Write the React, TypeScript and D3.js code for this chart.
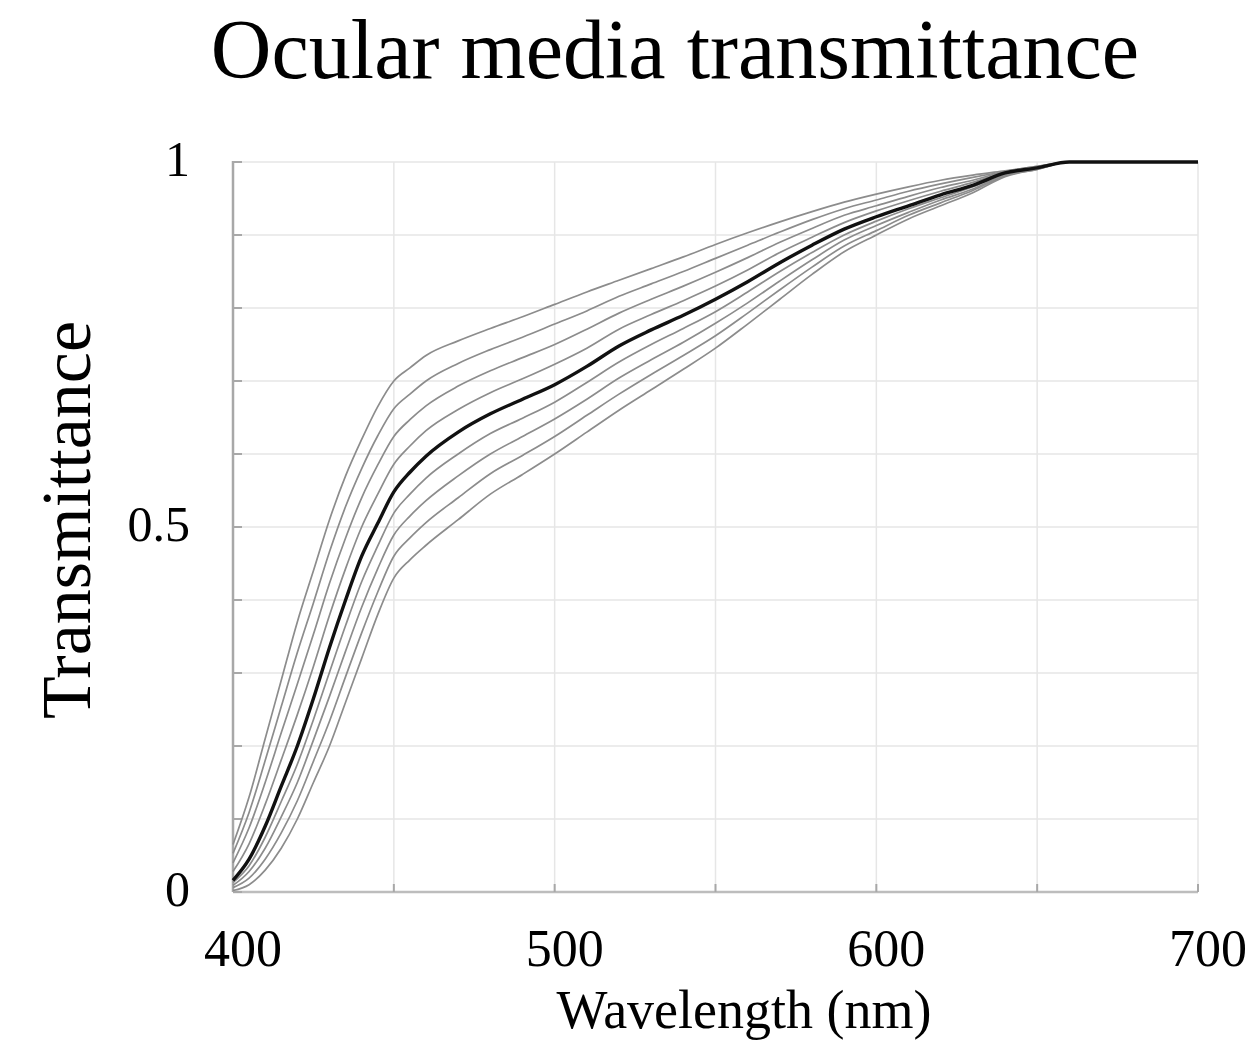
import React from "react";
import * as d3 from "d3";

const wavelengths = [400, 405, 410, 415, 420, 425, 430, 435, 440, 445, 450, 455, 460, 470, 480, 490, 500, 510, 520, 530, 540, 550, 560, 570, 580, 590, 600, 610, 620, 630, 640, 650, 660, 680, 700];

const curve0 = [0.065, 0.13, 0.21, 0.29, 0.37, 0.44, 0.51, 0.57, 0.62, 0.665, 0.70, 0.718, 0.735, 0.755, 0.772, 0.788, 0.805, 0.822, 0.838, 0.854, 0.87, 0.887, 0.903, 0.918, 0.932, 0.945, 0.956, 0.966, 0.975, 0.982, 0.988, 0.994, 1, 1, 1];
const curve1 = [0.053, 0.109, 0.18, 0.254, 0.328, 0.396, 0.466, 0.528, 0.58, 0.625, 0.662, 0.682, 0.70, 0.724, 0.743, 0.76, 0.778, 0.796, 0.816, 0.833, 0.85, 0.868, 0.886, 0.904, 0.921, 0.936, 0.948, 0.96, 0.97, 0.979, 0.987, 0.994, 1, 1, 1];
const curve2 = [0.040, 0.088, 0.15, 0.218, 0.285, 0.353, 0.423, 0.485, 0.54, 0.585, 0.624, 0.647, 0.666, 0.693, 0.714, 0.732, 0.75, 0.771, 0.793, 0.812, 0.83, 0.849, 0.869, 0.89, 0.909, 0.927, 0.94, 0.953, 0.965, 0.975, 0.987, 0.993, 1, 1, 1];
const curve3 = [0.028, 0.066, 0.12, 0.181, 0.243, 0.309, 0.379, 0.443, 0.50, 0.545, 0.586, 0.611, 0.632, 0.661, 0.684, 0.703, 0.723, 0.745, 0.771, 0.791, 0.81, 0.83, 0.852, 0.876, 0.897, 0.917, 0.933, 0.947, 0.96, 0.972, 0.986, 0.993, 1, 1, 1];
const curveMean = [0.016, 0.045, 0.09, 0.145, 0.2, 0.265, 0.335, 0.40, 0.46, 0.505, 0.548, 0.575, 0.597, 0.63, 0.655, 0.675, 0.695, 0.72, 0.748, 0.77, 0.79, 0.812, 0.836, 0.862, 0.886, 0.908, 0.925, 0.94, 0.955, 0.968, 0.985, 0.992, 1, 1, 1];
const curve5 = [0.013, 0.036, 0.075, 0.124, 0.175, 0.236, 0.301, 0.365, 0.425, 0.474, 0.519, 0.545, 0.567, 0.60, 0.628, 0.649, 0.671, 0.698, 0.726, 0.75, 0.772, 0.795, 0.822, 0.85, 0.876, 0.90, 0.919, 0.936, 0.951, 0.966, 0.984, 0.992, 1, 1, 1];
const curve6 = [0.009, 0.028, 0.06, 0.103, 0.15, 0.208, 0.268, 0.33, 0.39, 0.443, 0.489, 0.515, 0.536, 0.57, 0.60, 0.624, 0.648, 0.675, 0.704, 0.729, 0.753, 0.779, 0.807, 0.837, 0.866, 0.893, 0.913, 0.931, 0.948, 0.963, 0.983, 0.991, 1, 1, 1];
const curve7 = [0.006, 0.019, 0.045, 0.081, 0.125, 0.179, 0.234, 0.295, 0.355, 0.411, 0.46, 0.485, 0.506, 0.54, 0.573, 0.598, 0.624, 0.653, 0.682, 0.709, 0.735, 0.762, 0.793, 0.825, 0.856, 0.885, 0.906, 0.927, 0.944, 0.961, 0.981, 0.99, 1, 1, 1];
const curve8 = [0.002, 0.01, 0.03, 0.06, 0.10, 0.15, 0.20, 0.26, 0.32, 0.38, 0.43, 0.455, 0.475, 0.51, 0.545, 0.572, 0.60, 0.63, 0.66, 0.688, 0.716, 0.745, 0.778, 0.812, 0.846, 0.877, 0.90, 0.922, 0.94, 0.958, 0.98, 0.99, 1, 1, 1];

const greyCurves = [curve0, curve1, curve2, curve3, curve5, curve6, curve7, curve8];

const xTicks = [400, 500, 600, 700];
const xGrid = [400, 450, 500, 550, 600, 650, 700];
const yTicks = [0, 0.5, 1];
const yTickLabels = ["0", "0.5", "1"];
const yGrid = [0, 0.1, 0.2, 0.3, 0.4, 0.5, 0.6, 0.7, 0.8, 0.9, 1];

const W = 1250;
const H = 1043;
const left = 233;
const right = 1198;
const top = 162;
const bottom = 892;
const FONT = "'Liberation Serif', 'Times New Roman', serif";

export default function App() {
  const x = d3.scaleLinear().domain([400, 700]).range([left, right]);
  const y = d3.scaleLinear().domain([0, 1]).range([bottom, top]);
  const line = d3
    .line<number>()
    .x((_, i) => x(wavelengths[i]))
    .y((d) => y(d))
    .curve(d3.curveMonotoneX);

  return (
    <svg width={W} height={H} style={{ position: "absolute", left: 0, top: 0, background: "#fff" }}>
      <rect x={0} y={0} width={W} height={H} fill="#fff" />
      <text x={675} y={78} textAnchor="middle" fontFamily={FONT} fontSize={84} fill="#000">
        Ocular media transmittance
      </text>

      {yGrid.map((v) => (
        <line key={"gy" + v} x1={left} x2={right} y1={y(v)} y2={y(v)} stroke="#e6e6e6" strokeWidth={1.5} />
      ))}
      {xGrid.map((v) => (
        <line key={"gx" + v} x1={x(v)} x2={x(v)} y1={top} y2={bottom} stroke="#e6e6e6" strokeWidth={1.5} />
      ))}

      <line x1={left} x2={left} y1={top - 1} y2={bottom} stroke="#a8a8a8" strokeWidth={2.5} />
      <line x1={left} x2={right} y1={bottom} y2={bottom} stroke="#bdbdbd" strokeWidth={2.5} />
      {yGrid.map((v) => (
        <line key={"ty" + v} x1={left} x2={left + 9} y1={y(v)} y2={y(v)} stroke="#a8a8a8" strokeWidth={2} />
      ))}
      {xGrid.slice(1).map((v) => (
        <line key={"tx" + v} x1={x(v)} x2={x(v)} y1={bottom} y2={bottom - 8} stroke="#a8a8a8" strokeWidth={2} />
      ))}

      {greyCurves.map((c, i) => (
        <path key={"c" + i} d={line(c) || ""} fill="none" stroke="#8c8c8c" strokeWidth={1.7} />
      ))}
      <path d={line(curveMean) || ""} fill="none" stroke="#111" strokeWidth={3.4} />

      {xTicks.map((v) => (
        <text key={"lx" + v} x={x(v) + 10} y={966} textAnchor="middle" fontFamily={FONT} fontSize={52} fill="#000">
          {v}
        </text>
      ))}
      {yTicks.map((v, i) => (
        <text key={"ly" + v} x={190} y={y(v) + 14} textAnchor="end" fontFamily={FONT} fontSize={50} fill="#000">
          {yTickLabels[i]}
        </text>
      ))}

      <text x={744} y={1028} textAnchor="middle" fontFamily={FONT} fontSize={54} fill="#000">
        Wavelength (nm)
      </text>
      <text
        transform={`translate(90, 520) rotate(-90)`}
        textAnchor="middle"
        fontFamily={FONT}
        fontSize={70}
        fill="#000"
      >
        Transmittance
      </text>
    </svg>
  );
}
